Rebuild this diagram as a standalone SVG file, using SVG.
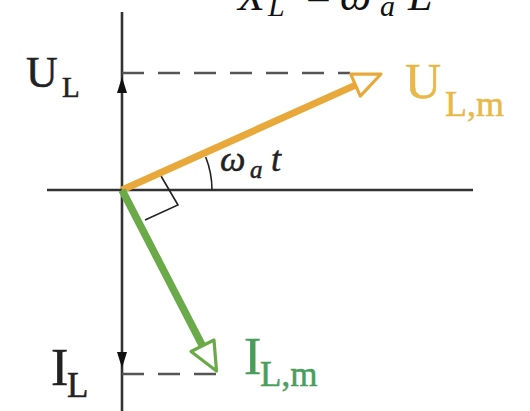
<svg xmlns="http://www.w3.org/2000/svg" width="530" height="411" viewBox="0 0 530 411">
<style>
.axis{stroke:#333;stroke-width:2.6;fill:none}
.dash{stroke:#555;stroke-width:2.6;stroke-dasharray:22 14;fill:none}
.thin{stroke:#222;stroke-width:1.6;fill:none}
.serif{font-family:"Liberation Serif","Times New Roman",serif}
.it{font-style:italic}
.orange{stroke:#E8A83A}
.green{stroke:#6BAA48}
.lbl{stroke-width:0.5}
</style>
<rect width="530" height="411" fill="#fff"/>
<g id="title" class="serif it" fill="#111">
<text x="238" y="10" font-size="44">X</text>
<text x="268" y="16" font-size="30">L</text>
<text x="306" y="10" font-size="44" font-style="normal">=</text>
<text x="340" y="10" font-size="44">ω</text>
<text x="380" y="16" font-size="30">a</text>
<text x="408" y="10" font-size="44">L</text>
</g>
<g id="axes">
<line class="axis" x1="122" y1="12" x2="122" y2="411"/>
<line class="axis" x1="47" y1="190" x2="473" y2="190"/>
<polygon points="122,77 117,93 127,93" fill="#111"/>
<polygon points="122,368 117,352 127,352" fill="#111"/>
</g>
<g id="connectors">
<line class="dash" x1="122" y1="73" x2="350" y2="73"/>
<line class="dash" x1="122" y1="374" x2="217" y2="374"/>
<polyline class="thin" points="161,176 178,205 145,220"/>
<path class="thin" d="M212,190 A90,90 0 0 0 205.7,157"/>
</g>
<g id="U_Lm_vector">
<line class="orange" x1="122" y1="190" x2="355.5" y2="85.1" stroke-width="7"/>
<polygon class="orange" points="381,74 350.7,74.1 360.3,96.1" fill="#fff" stroke-width="3.2" stroke-linejoin="round"/>
</g>
<g id="I_Lm_vector">
<line class="green" x1="122" y1="190" x2="202.2" y2="345.3" stroke-width="7.5"/>
<polygon class="green" points="216.5,371 214,340 191,351.5" fill="#fff" stroke-width="3.2" stroke-linejoin="round"/>
</g>
<g id="label_UL" class="serif lbl" fill="#222" stroke="#222">
<text x="26" y="87" font-size="44">U</text>
<text x="62" y="97" font-size="29">L</text>
</g>
<g id="label_ULm" class="serif lbl" fill="#E8B848" stroke="#E8B848">
<text x="405" y="98" font-size="50">U</text>
<text x="445" y="116" font-size="36">L,m</text>
</g>
<g id="label_IL" class="serif lbl" fill="#222" stroke="#222">
<text x="51" y="385" font-size="52">I</text>
<text x="67" y="397" font-size="35">L</text>
</g>
<g id="label_ILm" class="serif lbl" fill="#4A9E5C" stroke="#4A9E5C">
<text x="244" y="374" font-size="52">I</text>
<text x="260" y="386" font-size="35">L,m</text>
</g>
<g id="label_angle" class="serif it lbl" fill="#222" stroke="#222">
<text x="220" y="171" font-size="36">ω</text>
<text x="250" y="178" font-size="25">a</text>
<text x="271" y="171" font-size="36">t</text>
</g>
</svg>
